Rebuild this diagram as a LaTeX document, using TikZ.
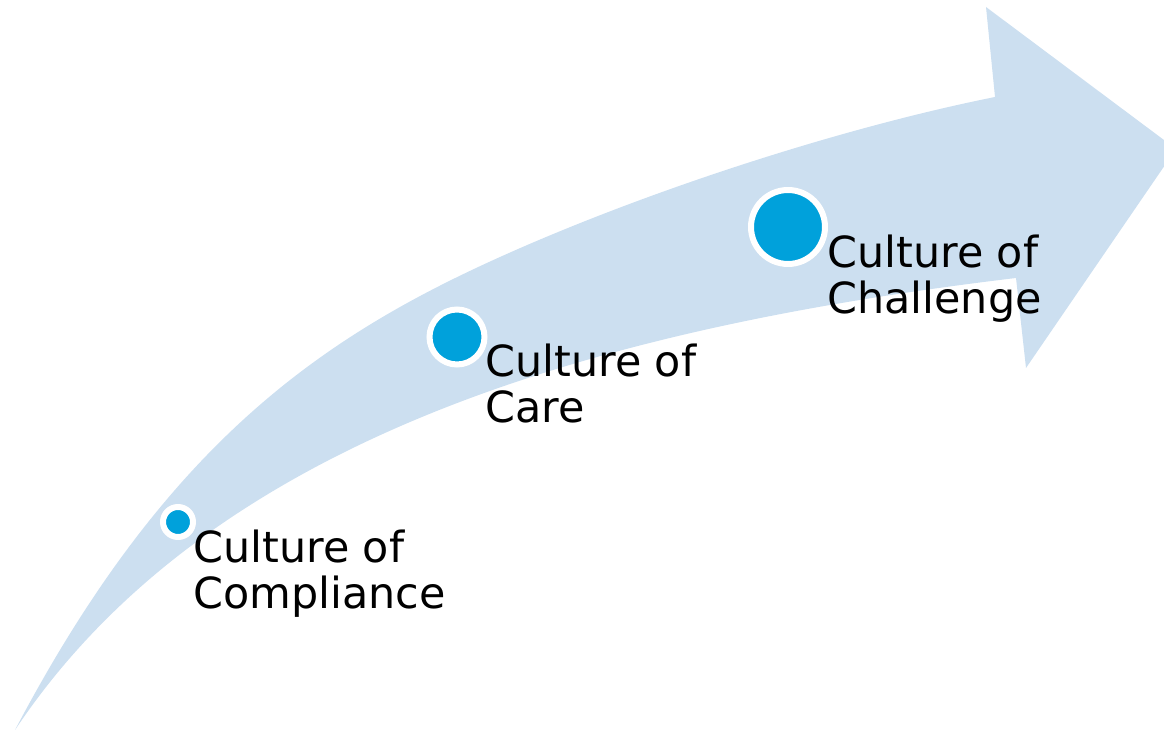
\documentclass[tikz,border=0pt]{standalone}
\usepackage{fontspec}
\setmainfont{DejaVu Sans}
\usepackage{tikz}

\definecolor{arrowblue}{RGB}{204,223,240}
\definecolor{dotblue}{RGB}{0,161,219}

\begin{document}
\begin{tikzpicture}[x=0.02cm,y=-0.02cm,
    dot/.style={circle,fill=dotblue,draw=white,line width=0.12cm,inner sep=0pt},
    stage/.style={anchor=base west,inner sep=0pt,align=left,font=\fontsize{24.4pt}{26.5pt}\selectfont}]
        \useasboundingbox(0,0)rectangle(1164,732);
        \clip(0,0)rectangle(1164,732);

        \fill[arrowblue](15,730)..controls(165,445)and(320,338)..(500,257)
            ..controls(650,189.5)and(845,127)..(995,97)--(986,7)--(1176,149)--(1026,368)--(1016,278)
            ..controls(616,326)and(215,430)..(15,730)--cycle;

        \node[dot,minimum size=0.6cm](dotA)at(178,522){};
        \node[dot,minimum size=1.1cm](dotB)at(457,337){};
        \node[dot,minimum size=1.48cm](dotC)at(788,227){};

        \node[stage](compliance)at(193,609){Culture of\\Compliance};
        \node[stage](care)at(485,423){Culture of\\Care};
        \node[stage](challenge)at(827,314){Culture of\\Challenge};
    \end{tikzpicture}
\end{document}
